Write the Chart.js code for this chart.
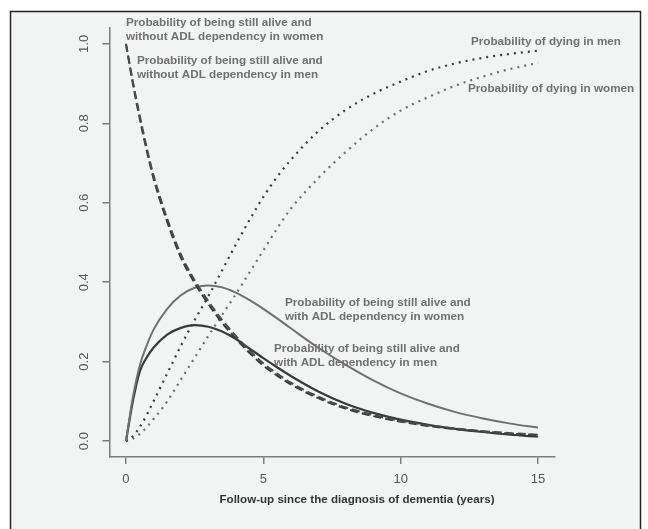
<!DOCTYPE html>
<html>
<head>
<meta charset="utf-8">
<title>Dementia follow-up</title>
<script src="https://cdn.jsdelivr.net/npm/chart.js@4.4.1/dist/chart.umd.min.js"></script>
<style>
  body { margin: 0; background: #fff; }
  #wrap { width: 648px; height: 529px; }
</style>
</head>
<body>
<div id="wrap"><canvas id="dementiaChart" width="648" height="529"></canvas></div>
<script>
// values (years since diagnosis -> probability)
const years = [0, 0.25, 0.5, 0.75, 1, 1.5, 2, 2.5, 3, 3.5, 4, 4.5, 5, 5.5, 6, 7, 8, 9, 10, 11, 12, 13, 14, 15];

const aliveNoAdlWomen = [1.0, 0.905, 0.82, 0.74, 0.67, 0.56, 0.47, 0.405, 0.352, 0.305, 0.265, 0.228, 0.196, 0.17, 0.147, 0.112, 0.085, 0.066, 0.051, 0.04, 0.032, 0.025, 0.02, 0.016];
const aliveNoAdlMen   = [1.0, 0.9, 0.812, 0.733, 0.662, 0.552, 0.462, 0.398, 0.345, 0.298, 0.258, 0.222, 0.19, 0.165, 0.143, 0.108, 0.082, 0.063, 0.049, 0.038, 0.03, 0.024, 0.019, 0.015];
const aliveAdlWomen   = [0, 0.11, 0.19, 0.24, 0.28, 0.333, 0.367, 0.386, 0.392, 0.387, 0.374, 0.355, 0.333, 0.309, 0.284, 0.235, 0.192, 0.153, 0.12, 0.094, 0.073, 0.057, 0.044, 0.034];
const aliveAdlMen     = [0, 0.1, 0.175, 0.21, 0.235, 0.268, 0.285, 0.292, 0.288, 0.276, 0.257, 0.233, 0.209, 0.186, 0.164, 0.125, 0.094, 0.071, 0.054, 0.041, 0.031, 0.023, 0.016, 0.011];
const dyingMen        = [0, 0.012, 0.035, 0.065, 0.1, 0.17, 0.24, 0.305, 0.365, 0.43, 0.495, 0.557, 0.615, 0.665, 0.708, 0.78, 0.834, 0.874, 0.905, 0.932, 0.951, 0.965, 0.975, 0.983];
const dyingWomen      = [0, 0.006, 0.018, 0.035, 0.055, 0.1, 0.155, 0.21, 0.265, 0.318, 0.37, 0.425, 0.48, 0.535, 0.585, 0.662, 0.728, 0.786, 0.832, 0.866, 0.895, 0.918, 0.937, 0.952];

const xTicks = [0, 5, 10, 15];
const yTicks = [0, 0.2, 0.4, 0.6, 0.8, 1.0];
const xTitle = 'Follow-up since the diagnosis of dementia (years)';

const curveLabels = [
  ['Probability of being still alive and', 'without ADL dependency in women'],
  ['Probability of being still alive and', 'without ADL dependency in men'],
  ['Probability of dying in men'],
  ['Probability of dying in women'],
  ['Probability of being still alive and', 'with ADL dependency in women'],
  ['Probability of being still alive and', 'with ADL dependency in men']
];
// where each label sits, in data units (left edge, first line)
const labelAt = [[0, 1.053], [0.4, 0.957], [12.56, 1.005], [12.45, 0.887], [5.79, 0.348], [5.39, 0.232]];

const FONT = "'Liberation Sans', Arial, Helvetica, sans-serif";
const DARK = '#3a3a3a';
const MID = '#707070';
const AXIS = '#7c7c7c';

const pts = vals => vals.map((v, i) => ({ x: years[i], y: v }));

const frame = {
  id: 'frame',
  beforeDraw(chart) {
    const c = chart.ctx;
    c.save();
    c.fillStyle = '#fff';
    c.fillRect(0, 0, chart.width, chart.height);
    c.fillStyle = '#f2f3f3';
    c.fillRect(10, 11, 631, 530);
    c.strokeStyle = '#262626';
    c.lineWidth = 1.5;
    c.beginPath();
    c.moveTo(10.5, 540);
    c.lineTo(10.5, 11.5);
    c.lineTo(640.5, 11.5);
    c.lineTo(640.5, 540);
    c.stroke();
    c.restore();
  }
};

const texts = {
  id: 'texts',
  afterDraw(chart) {
    const c = chart.ctx;
    const xs = chart.scales.x, ys = chart.scales.y;
    c.save();
    c.fillStyle = MID;
    c.font = 'bold 11.7px ' + FONT;
    c.textAlign = 'left';
    c.textBaseline = 'middle';
    curveLabels.forEach((lines, i) => {
      const px = xs.getPixelForValue(labelAt[i][0]);
      const py = ys.getPixelForValue(labelAt[i][1]);
      lines.forEach((t, j) => c.fillText(t, px, py + j * 14));
    });
    // axis title
    c.fillStyle = '#333';
    c.font = 'bold 11.6px ' + FONT;
    c.textAlign = 'center';
    c.fillText(xTitle, 357, 500);
    c.restore();
  }
};

const ctx = document.getElementById('dementiaChart').getContext('2d');

new Chart(ctx, {
  type: 'line',
  data: {
    datasets: [
      { label: 'Alive without ADL dependency (women)', data: pts(aliveNoAdlWomen), borderColor: '#4a4a4a', borderWidth: 2, borderDash: [8, 4] },
      { label: 'Alive without ADL dependency (men)', data: pts(aliveNoAdlMen), borderColor: DARK, borderWidth: 2, borderDash: [8, 4] },
      { label: 'Alive with ADL dependency (women)', data: pts(aliveAdlWomen), borderColor: MID, borderWidth: 2 },
      { label: 'Alive with ADL dependency (men)', data: pts(aliveAdlMen), borderColor: DARK, borderWidth: 2.2 },
      { label: 'Dying (men)', data: pts(dyingMen), borderColor: DARK, borderWidth: 2.2, borderDash: [2, 5] },
      { label: 'Dying (women)', data: pts(dyingWomen), borderColor: MID, borderWidth: 2.2, borderDash: [2, 5] }
    ]
  },
  options: {
    responsive: false,
    animation: false,
    layout: { padding: { top: 28, right: 93.5, left: 0, bottom: 0 } },
    elements: {
      point: { radius: 0 },
      line: { cubicInterpolationMode: 'monotone', fill: false }
    },
    plugins: {
      legend: { display: false },
      tooltip: { enabled: false }
    },
    scales: {
      x: {
        type: 'linear',
        min: -0.6,
        max: 15.6,
        afterBuildTicks: s => { s.ticks = xTicks.map(v => ({ value: v })); },
        afterFit: s => { s.height = 72; },
        border: { display: true, color: AXIS, width: 1.5 },
        grid: { drawOnChartArea: false, drawTicks: true, tickLength: 7, color: AXIS, lineWidth: 1.5 },
        ticks: { maxRotation: 0, padding: 8, color: '#555', font: { family: FONT, size: 13 } }
      },
      y: {
        type: 'linear',
        min: -0.04,
        max: 1.04,
        afterBuildTicks: s => { s.ticks = yTicks.map(v => ({ value: v })); },
        afterFit: s => { s.width = 109.5; },
        border: { display: true, color: AXIS, width: 1.5 },
        grid: { drawOnChartArea: false, drawTicks: true, tickLength: 7, color: AXIS, lineWidth: 1.5 },
        ticks: {
          minRotation: 90,
          maxRotation: 90,
          crossAlign: 'center',
          padding: 9.5,
          color: '#555',
          font: { family: FONT, size: 13 },
          callback: v => Number(v).toFixed(1)
        }
      }
    }
  },
  plugins: [frame, texts]
});
</script>
</body>
</html>
